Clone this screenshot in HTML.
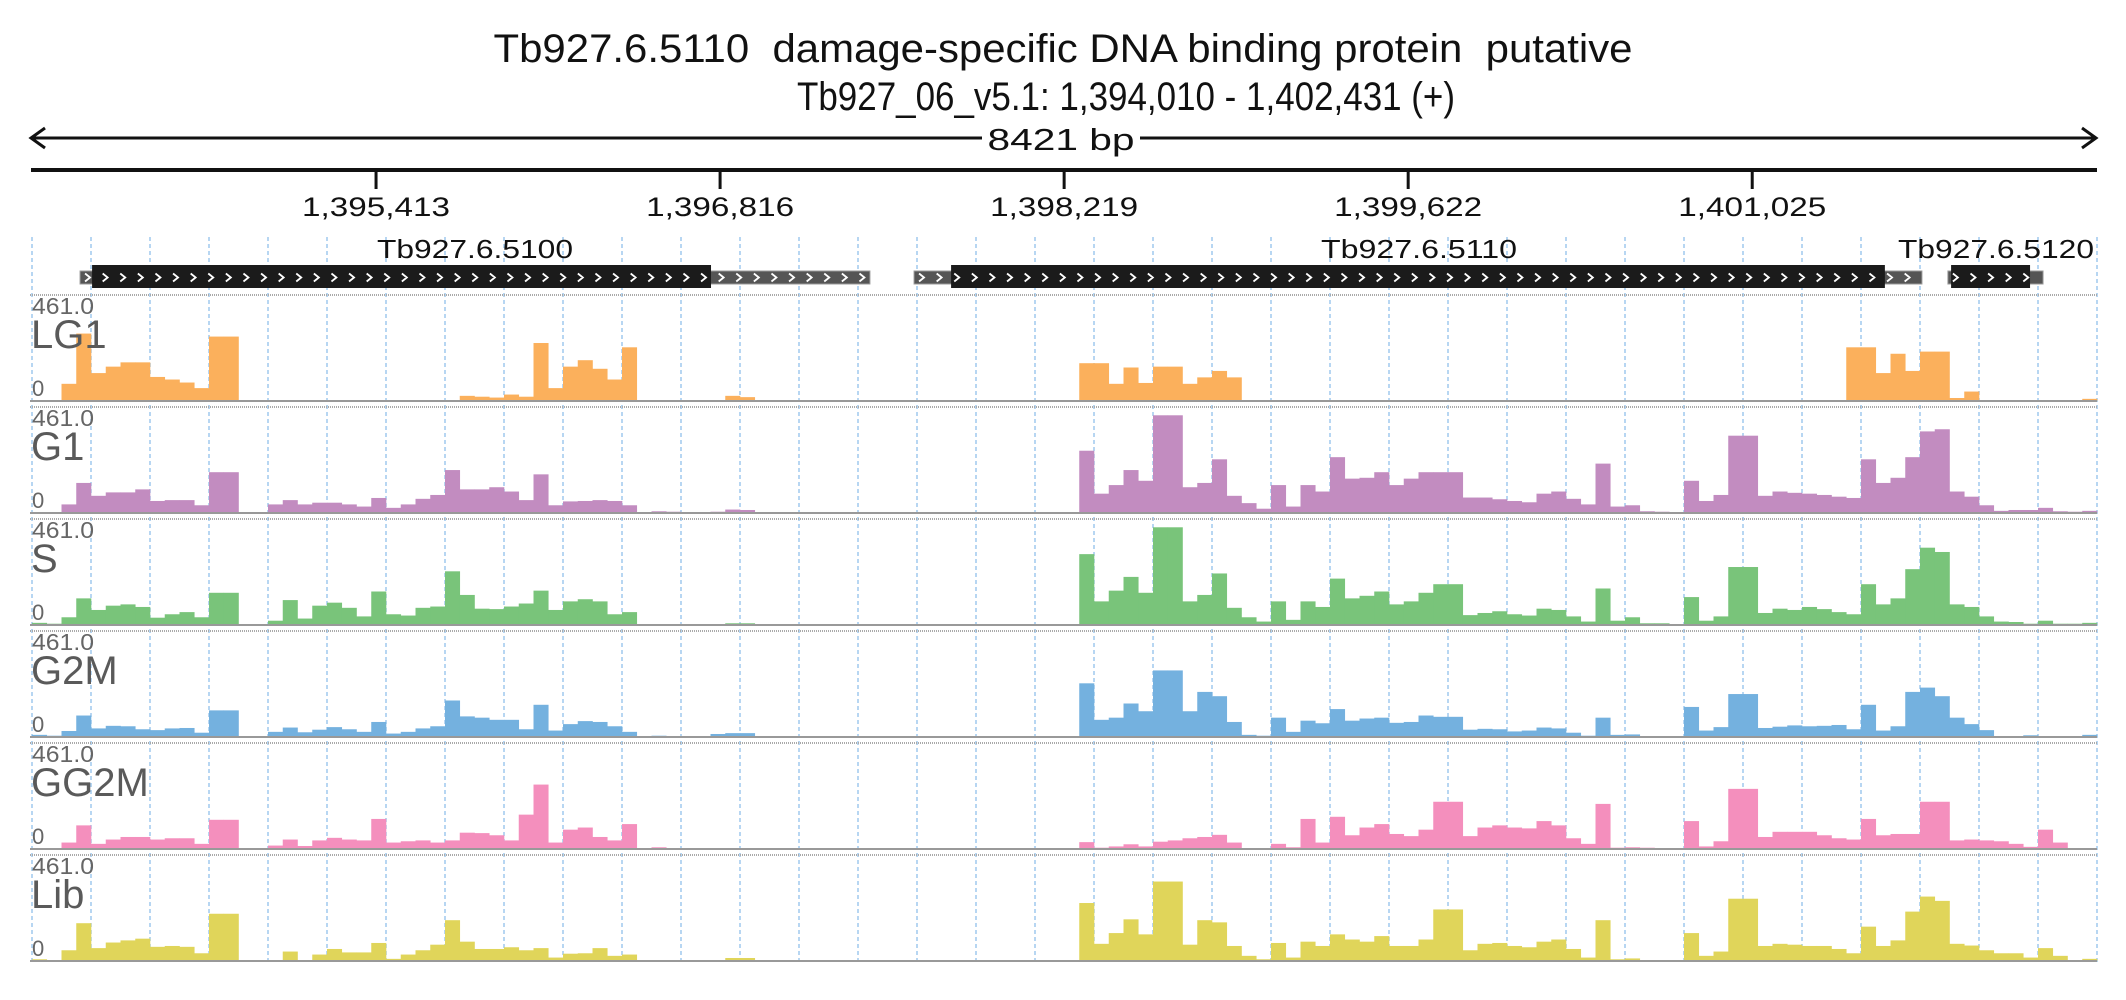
<!DOCTYPE html>
<html><head><meta charset="utf-8">
<style>
html,body{margin:0;padding:0;background:#fff;}
svg{display:block;font-family:"Liberation Sans",sans-serif;}
.pre{white-space:pre;}
</style></head>
<body>
<svg id="chart" width="2126" height="1000" viewBox="0 0 2126 1000" xmlns="http://www.w3.org/2000/svg">
  <rect width="2126" height="1000" fill="#fff"/>
  <text class="pre" x="1063" y="62" font-size="40" text-anchor="middle" textLength="1139" lengthAdjust="spacingAndGlyphs" fill="#111">Tb927.6.5110  damage-specific DNA binding protein  putative</text>
  <text x="1126" y="110" font-size="40" text-anchor="middle" textLength="658" lengthAdjust="spacingAndGlyphs" fill="#111">Tb927_06_v5.1: 1,394,010 - 1,402,431 (+)</text>
  <g stroke="#111" stroke-width="3" fill="none">
    <line x1="31" y1="138" x2="982" y2="138"/>
    <line x1="1140" y1="138" x2="2096" y2="138"/>
    <polyline points="45,128 31,138 45,148"/>
    <polyline points="2082,128 2096,138 2082,148"/>
  </g>
  <text x="1061" y="150" font-size="31" text-anchor="middle" textLength="147" lengthAdjust="spacingAndGlyphs" fill="#111">8421 bp</text>
  <line x1="31" y1="170" x2="2097" y2="170" stroke="#111" stroke-width="4"/>
  <g id="axis"></g>
  <g id="grid"></g>
  <g id="genes"></g>
  <g id="tracks"></g>
</svg>
<script>
const regionStart = 1394010;
const regionEnd = 1402431;
const tickValues = [1395413, 1396816, 1398219, 1399622, 1401025];
const tickLabels = ["1,395,413", "1,396,816", "1,398,219", "1,399,622", "1,401,025"];
const trackNames = ["LG1", "G1", "S", "G2M", "GG2M", "Lib"];
const trackColors = ["#fbb05c", "#c28cc0", "#79c47a", "#74b1df", "#f48fbd", "#e0d55a"];
const yMaxValue = 461;
const geneNames = ["Tb927.6.5100", "Tb927.6.5110", "Tb927.6.5120"];
const geneStarts = [1394206, 1397607, 1401823];
const cdsStarts = [1394255, 1397758, 1401836];
const cdsEnds = [1396779, 1401566, 1402158];
const geneEnds = [1397427, 1401717, 1402211];
const binCount = 140;
const seriesLG1 = [4,0,80,314,130,160,180,180,112,100,86,60,300,300,0,0,0,0,0,0,0,0,0,0,0,0,0,4,2,24,20,16,30,20,270,60,160,190,150,100,250,2,4,2,0,0,0,24,18,4,0,0,0,0,0,0,0,0,0,0,0,0,0,0,0,0,0,0,0,0,0,176,176,80,156,84,160,160,80,110,140,110,0,0,0,0,0,0,0,0,0,0,0,0,0,0,0,0,0,0,0,0,0,0,0,0,0,0,0,0,0,0,0,0,0,0,0,0,0,0,0,0,0,250,250,130,220,140,230,230,14,44,0,0,0,0,0,0,0,10];
const seriesG1 = [4,0,40,140,80,96,96,110,56,60,60,36,190,190,0,0,40,60,40,48,48,40,30,70,24,40,66,84,200,110,110,120,100,60,180,36,54,56,60,56,36,0,8,6,4,4,6,16,14,4,0,0,0,0,0,0,0,0,0,0,0,0,0,0,0,0,0,0,0,0,0,290,90,130,200,150,455,455,120,140,250,80,46,20,130,30,130,100,260,160,164,190,130,160,190,190,190,72,72,64,56,50,90,100,66,40,230,30,36,8,6,2,150,56,84,360,360,80,100,94,90,84,76,70,250,140,164,260,380,390,100,76,36,10,14,14,24,8,6,10];
const seriesS = [10,6,36,124,70,90,96,84,34,50,60,36,150,150,0,0,20,116,30,90,104,80,40,156,50,44,80,86,250,140,76,74,86,100,160,70,110,120,110,50,60,4,4,4,4,4,4,8,8,0,0,0,0,0,0,0,0,0,0,0,0,0,0,0,0,0,0,0,0,0,0,330,110,160,224,150,455,455,110,140,240,80,36,16,110,24,110,84,216,124,136,156,96,110,150,190,190,46,56,64,50,44,76,70,40,16,170,20,36,8,8,4,130,20,40,270,270,56,76,70,84,74,60,50,190,96,124,260,360,340,96,84,40,16,14,6,20,6,6,10];
const seriesG2M = [10,6,28,100,40,52,50,36,32,40,42,20,124,124,0,0,24,44,22,34,46,36,24,70,16,24,40,50,170,96,90,80,80,36,150,30,60,74,70,50,24,2,6,4,2,2,14,18,18,4,0,0,0,0,0,0,0,0,0,0,0,0,0,0,0,0,0,0,0,0,0,250,80,90,156,120,310,310,120,210,190,70,10,6,90,24,76,64,130,76,86,90,66,70,100,94,94,34,38,36,26,30,44,40,20,6,90,10,12,4,4,2,140,30,46,200,200,42,48,54,50,52,56,36,150,30,50,210,230,190,90,60,32,4,4,8,2,2,2,10];
const seriesGG2M = [0,0,30,110,24,44,56,56,44,50,50,24,136,136,0,0,16,44,14,40,52,44,40,140,30,36,40,30,40,76,74,64,40,160,300,30,90,100,56,40,116,0,8,4,2,0,0,0,0,0,0,0,0,0,0,0,0,0,0,0,0,0,0,0,0,0,0,0,0,0,0,32,6,12,22,12,34,40,50,56,66,30,4,2,24,8,140,30,150,64,100,116,70,60,90,220,220,60,100,110,100,96,130,110,50,24,210,6,8,6,2,0,130,12,36,280,280,56,80,80,80,64,50,44,140,64,70,70,220,220,40,44,40,36,24,10,90,30,0,0];
const seriesLib = [8,4,50,176,60,86,96,104,66,70,66,36,220,220,0,0,0,44,4,30,56,40,40,84,10,30,50,76,190,90,56,56,64,50,60,16,34,36,60,24,30,0,4,4,2,0,4,14,14,2,0,0,0,0,0,0,0,0,0,0,0,0,0,0,0,0,0,0,0,0,0,270,80,130,194,124,370,370,76,190,180,70,24,8,84,16,90,70,124,100,90,116,70,70,100,240,240,50,80,84,70,64,90,100,56,16,190,8,12,2,2,2,130,24,44,290,290,70,80,76,70,70,56,36,160,70,96,230,300,280,80,72,50,36,36,16,60,24,0,10];

const NS = "http://www.w3.org/2000/svg";
const X0 = 32, X1 = 2097;
function xScale(bp){ return X0 + (bp - regionStart) / (regionEnd - regionStart) * (X1 - X0); }
function mk(tag, attrs, parent){ const e = document.createElementNS(NS, tag); for (const k in attrs) e.setAttribute(k, attrs[k]); parent.appendChild(e); return e; }

const axis = document.getElementById('axis');
tickValues.forEach((v, i) => {
  const x = xScale(v);
  const t = mk('line', {x1:x, y1:170, x2:x, y2:189, stroke:'#111', 'stroke-width':3}, axis);
  
  
  const l = mk('text', {x:x, y:216, 'font-size':27, 'text-anchor':'middle', fill:'#111', textLength:148, lengthAdjust:'spacingAndGlyphs'}, axis);
  l.textContent = tickLabels[i];
  
  
});

const grid = document.getElementById('grid');
for (let k = 0; k <= 35; k++) {
  const x = X0 + k * (X1 - X0) / 35;
  const g = mk('line', {x1:x, y1:237, x2:x, y2:962, stroke:'#9fc9ee', 'stroke-width':1.5, 'stroke-dasharray':'4 3'}, grid);
  
  
}

const genes = document.getElementById('genes');
geneNames.forEach((name, i) => {
  const gs = xScale(geneStarts[i]), cs = xScale(cdsStarts[i]), ce = xScale(cdsEnds[i]), ge = xScale(geneEnds[i]);
  const grp = mk('g', {}, genes);
  
  
  mk('rect', {x:gs, y:271, width:ge-gs, height:13, fill:'#555', stroke:'#999', 'stroke-width':1}, grp);
  mk('rect', {x:cs, y:265, width:ce-cs, height:23, fill:'#1b1b1b'}, grp);
  let d = '';
  for (let x = gs + 5; x < ge - 6; x += 17.6) d += 'M' + x + ',273.5 L' + (x+5) + ',277.5 L' + x + ',281.5 ';
  mk('path', {d:d, stroke:'#fff', 'stroke-width':1.8, fill:'none'}, grp);
  const anchor = i === 2 ? 'end' : 'middle';
  const lx = i === 2 ? 2094 : (i === 0 ? 475 : 1419);
  const lab = mk('text', {x:lx, y:258, 'font-size':26, 'text-anchor':anchor, fill:'#111', textLength:196, lengthAdjust:'spacingAndGlyphs'}, grp);
  lab.textContent = name;
  
  
});

const tracks = document.getElementById('tracks');
const allSeries = [seriesLG1, seriesG1, seriesS, seriesG2M, seriesGG2M, seriesLib];
const H = 99;
trackNames.forEach((name, ti) => {
  const sep = 295 + ti * 112, base = sep + 106;
  const grp = mk('g', {}, tracks);
  
  
  const s = mk('line', {x1:30, y1:sep, x2:2097, y2:sep, stroke:'#aaa', 'stroke-width':2, 'stroke-dasharray':'1 1'}, grp);
  
  
  const yScale = v => base - Math.min(v, yMaxValue) / yMaxValue * H;
  const vals = allSeries[ti];
  const bw = (regionEnd - regionStart) / binCount;
  vals.forEach((v, bi) => {
    if (v <= 0) return;
    const xa = xScale(regionStart + bi * bw), xb = xScale(regionStart + (bi + 1) * bw);
    const r = mk('rect', {x:xa, y:yScale(v), width:xb - xa + 0.3, height:base - yScale(v), fill:trackColors[ti]}, grp);
    
    
  });
  const bl = mk('line', {x1:30, y1:base, x2:2097, y2:base, stroke:'#999', 'stroke-width':2}, grp);
  
  
  const mx = mk('text', {x:32, y:sep + 19, 'font-size':23, fill:'#666', textLength:62, lengthAdjust:'spacingAndGlyphs'}, grp);
  mx.textContent = yMaxValue.toFixed(1);
  
  
  const zr = mk('text', {x:32, y:base - 5, 'font-size':22, fill:'#666'}, grp);
  zr.textContent = '0';
  
  
  const tl = mk('text', {x:31, y:sep + 53, 'font-size':40, fill:'#5a5a5a'}, grp);
  tl.textContent = name;
  
  
});
</script>
</body></html>
